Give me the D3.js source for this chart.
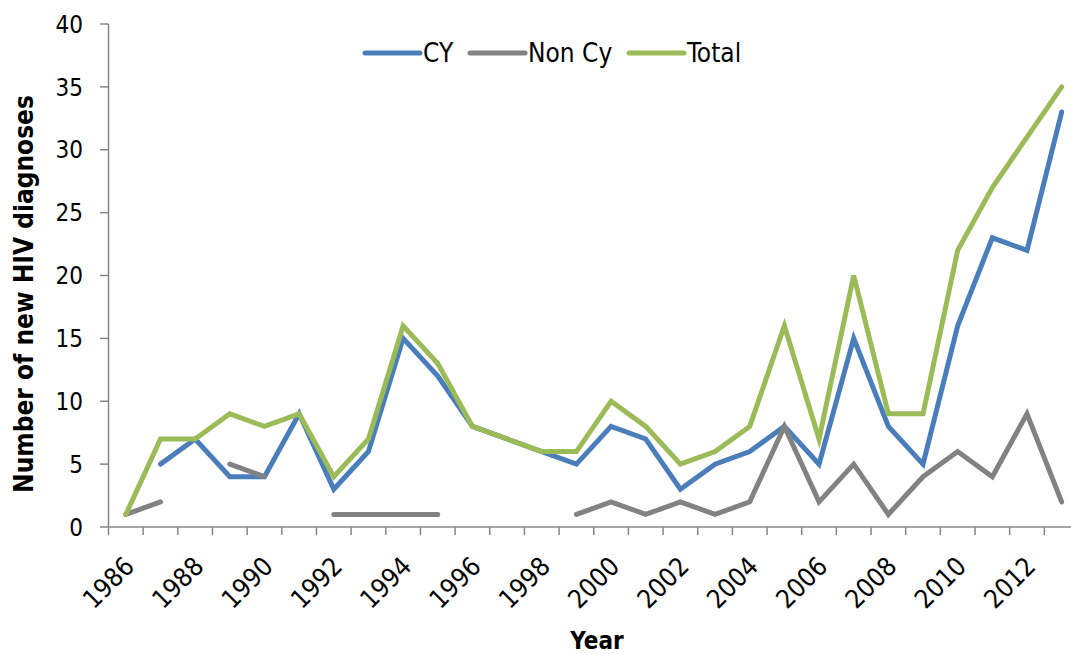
<!DOCTYPE html>
<html>
<head>
<meta charset="utf-8">
<script src="https://cdn.jsdelivr.net/npm/d3@7"></script>
<style>
  body { margin: 0; background: #fff; }
  text { font-family: "DejaVu Sans Condensed", "DejaVu Sans", sans-serif; fill: #000; }
</style>
</head>
<body>
<svg id="chart" width="1071" height="654"></svg>
<script>
// years on the x axis (one category per year)
const years = d3.range(1986, 2014);
// labels shown only every other year
const yearLabels = years.filter(y => y % 2 === 0 && y <= 2012);

// new HIV diagnoses per year (null = no point)
const cyValues = [null, 5, 7, 4, 4, 9, 3, 6, 15, 12, 8, 7, 6, 5, 8, 7, 3, 5, 6, 8, 5, 15, 8, 5, 16, 23, 22, 33];
const nonCyValues = [1, 2, null, 5, 4, null, 1, 1, 1, 1, null, null, null, 1, 2, 1, 2, 1, 2, 8, 2, 5, 1, 4, 6, 4, 9, 2];
const totalValues = [1, 7, 7, 9, 8, 9, 4, 7, 16, 13, 8, 7, 6, 6, 10, 8, 5, 6, 8, 16, 7, 20, 9, 9, 22, 27, 31, 35];

const yTicks = [0, 5, 10, 15, 20, 25, 30, 35, 40];

const series = [
    { name: 'CY', values: cyValues, color: '#4A7EBB' },
    { name: 'Non Cy', values: nonCyValues, color: '#828282' },
    { name: 'Total', values: totalValues, color: '#9BBB59' }
];

const svg = d3.select('#chart');
const axisColor = '#868686';

// scales
const x = d3.scaleBand().domain(years).range([108.5, 1079]);
const y = d3.scaleLinear().domain([0, 40]).range([527, 24]);

// y axis
const yAxis = svg.append('g');
yAxis.append('line')
    .attr('x1', 108.5).attr('x2', 108.5)
    .attr('y1', y(40)).attr('y2', y(0))
    .attr('stroke', axisColor).attr('stroke-width', 1.5);
yAxis.selectAll('.ytick')
    .data(yTicks).enter().append('line')
    .attr('x1', 100).attr('x2', 108.5)
    .attr('y1', d => y(d)).attr('y2', d => y(d))
    .attr('stroke', axisColor).attr('stroke-width', 1.5);
yAxis.selectAll('.ylabel')
    .data(yTicks).enter().append('text')
    .attr('x', 83).attr('y', d => y(d))
    .attr('dy', '0.36em')
    .attr('text-anchor', 'end')
    .style('font-size', '24px')
    .text(d => d);

// x axis
const xAxis = svg.append('g');
xAxis.append('line')
    .attr('x1', 108.5).attr('x2', 1079)
    .attr('y1', y(0)).attr('y2', y(0))
    .attr('stroke', axisColor).attr('stroke-width', 1.5);
const edges = years.map(d => x(d)).concat([x.range()[1]]);
xAxis.selectAll('.xtick')
    .data(edges).enter().append('line')
    .attr('x1', d => d).attr('x2', d => d)
    .attr('y1', y(0)).attr('y2', y(0) + 8)
    .attr('stroke', axisColor).attr('stroke-width', 1.5);
xAxis.selectAll('.xlabel')
    .data(yearLabels).enter().append('text')
    .attr('transform', d => `translate(${x(d) + x.bandwidth() / 2 + 10},${y(0) + 41}) rotate(-45)`)
    .attr('text-anchor', 'end')
    .style('font-size', '26px')
    .text(d => d);

// axis titles
svg.append('text')
    .attr('x', 597).attr('y', 649)
    .attr('text-anchor', 'middle')
    .style('font-size', '24px').style('font-weight', 'bold')
    .text('Year');
svg.append('text')
    .attr('transform', 'translate(33,294) rotate(-90)')
    .attr('text-anchor', 'middle')
    .style('font-size', '26px').style('font-weight', 'bold')
    .text('Number of new HIV diagnoses');

// lines
const line = d3.line()
    .defined(d => d.v != null)
    .x(d => x(d.year) + x.bandwidth() / 2)
    .y(d => y(d.v));

svg.selectAll('.series')
    .data(series).enter().append('path')
    .attr('fill', 'none')
    .attr('stroke', d => d.color)
    .attr('stroke-width', 5)
    .attr('stroke-linecap', 'round')
    .attr('stroke-linejoin', 'miter')
    .attr('d', d => line(years.map((yr, i) => ({ year: yr, v: d.values[i] }))));

// legend
const legendX = [365, 470, 629];
const legend = svg.selectAll('.legend')
    .data(series).enter().append('g')
    .attr('transform', (d, i) => `translate(${legendX[i]},53)`);
legend.append('line')
    .attr('x1', 0).attr('x2', 55)
    .attr('stroke', d => d.color).attr('stroke-width', 5)
    .attr('stroke-linecap', 'round');
legend.append('text')
    .attr('x', 58).attr('dy', '0.36em')
    .style('font-size', '26px')
    .text(d => d.name);
</script>
</body>
</html>
